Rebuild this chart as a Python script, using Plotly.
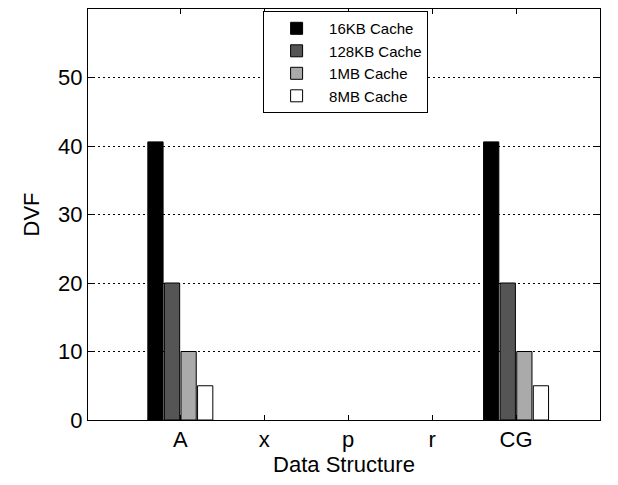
import plotly.graph_objects as go

categories = ["A", "x", "p", "r", "CG"]
positions = [1, 2, 3, 4, 5]
series_names = ["16KB Cache", "128KB Cache", "1MB Cache", "8MB Cache"]
v16kb = [40.6, None, None, None, 40.6]
v128kb = [20, None, None, None, 20]
v1mb = [10, None, None, None, 10]
v8mb = [5, None, None, None, 5]
colors = ["#000000", "#555555", "#aaaaaa", "#ffffff"]

fig = go.Figure()
for name, vals, col in zip(series_names, [v16kb, v128kb, v1mb, v8mb], colors):
    fig.add_trace(go.Bar(x=positions, y=vals, name=name, marker=dict(color=col, line=dict(color="#000000", width=1))))

font = "Liberation Sans, Arial, sans-serif"
fig.update_layout(
    width=618, height=485,
    margin=dict(l=88, r=18, t=9, b=65),
    paper_bgcolor="white", plot_bgcolor="white",
    barmode="group", bargap=0.21, bargroupgap=0.08,
    font=dict(family=font, color="black"),
    legend=dict(x=0.342, y=0.995, xanchor="left", yanchor="top",
                bordercolor="black", borderwidth=1, bgcolor="white",
                font=dict(size=15, family=font), tracegroupgap=0, itemwidth=55),
    showlegend=True,
)
fig.update_xaxes(range=[-0.1, 6], tickvals=positions, ticktext=categories,
                 showline=True, linecolor="black", linewidth=1, mirror="ticks",
                 ticks="inside", ticklen=5, tickcolor="black", showgrid=False,
                 tickfont=dict(size=22), title=dict(text="Data Structure", font=dict(size=22), standoff=0))
fig.update_yaxes(range=[0, 60], tickvals=[0, 10, 20, 30, 40, 50],
                 showline=True, linecolor="black", linewidth=1, mirror="ticks",
                 ticks="inside", ticklen=5, tickcolor="black",
                 showgrid=True, gridcolor="black", gridwidth=1, griddash="2px,3px",
                 tickfont=dict(size=22), zeroline=False,
                 title=dict(text="DVF", font=dict(size=22), standoff=12))
fig.write_html("out.html")
